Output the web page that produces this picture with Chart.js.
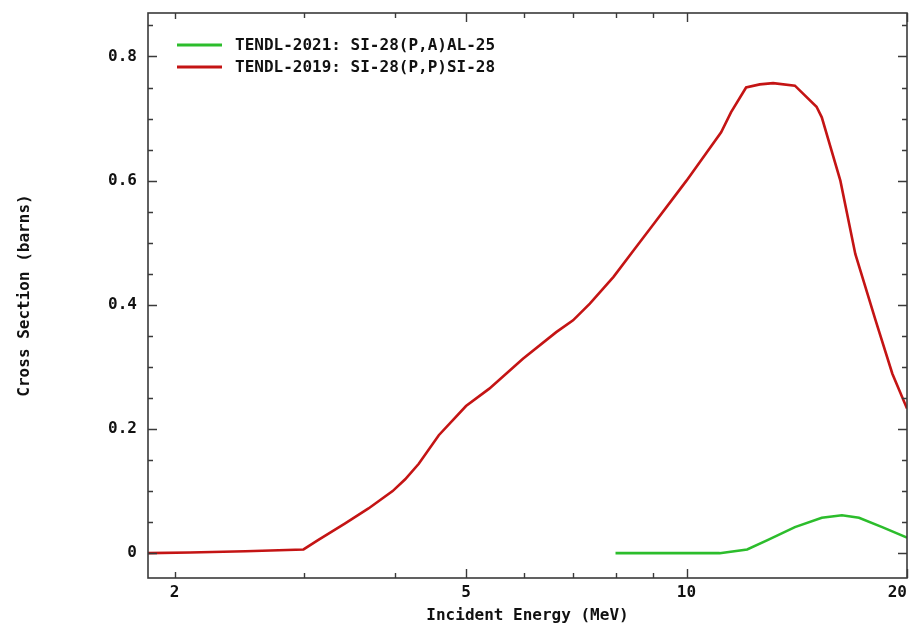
<!DOCTYPE html>
<html>
<head>
<meta charset="utf-8">
<script src="https://cdn.jsdelivr.net/npm/chart.js@4.4.1/dist/chart.umd.min.js"></script>
<style>
html,body{margin:0;padding:0;background:#fff;}
#wrap{width:914px;height:626px;position:relative;}
</style>
</head>
<body>
<div id="wrap"><canvas id="c" width="914" height="626"></canvas></div>
<script>
// ---- data ----
const seriesLabels = ["TENDL-2021: SI-28(P,A)AL-25", "TENDL-2019: SI-28(P,P)SI-28"];
const greenE  = [8.0, 11.1, 12.1, 12.9, 14.06, 15.3, 16.3, 17.2, 18.5, 20.0];
const greenXS = [0, 0, 0.006, 0.021, 0.042, 0.057, 0.061, 0.057, 0.042, 0.025];
const redE  = [1.84, 2.1, 2.5, 3.0, 3.14, 3.42, 3.68, 3.97, 4.13, 4.31, 4.59, 5.0, 5.38, 5.98, 6.64, 7.0, 7.38, 7.95, 8.47, 9.03, 9.61, 10.0, 11.15, 11.5, 12.06, 12.59, 13.13, 14.06, 15.05, 15.3, 16.22, 17.0, 18.12, 19.1, 20.0];
const redXS = [0, 0.001, 0.003, 0.006, 0.021, 0.048, 0.072, 0.100, 0.119, 0.144, 0.19, 0.237, 0.265, 0.313, 0.356, 0.375, 0.402, 0.445, 0.488, 0.531, 0.573, 0.600, 0.678, 0.710, 0.750, 0.755, 0.757, 0.753, 0.719, 0.702, 0.600, 0.482, 0.375, 0.289, 0.233];
const xMajorTicks = [2, 5, 10, 20];
const xMinorTicks = [3, 4, 6, 7, 8, 9];
const yMajorTicks = [0, 0.2, 0.4, 0.6, 0.8];
const yMinorTicks = [0.05, 0.1, 0.15, 0.25, 0.3, 0.35, 0.45, 0.5, 0.55, 0.65, 0.7, 0.75, 0.85];
const xRange = [1.84, 20];
const yRange = [-0.04, 0.87];

const FONT = "'DejaVu Sans Mono', 'Liberation Mono', monospace";
const RED = '#c41414';
const GREEN = '#2cbd2c';
const AXIS = '#3a3a3a';

function pts(xs, ys){ return xs.map((x,i)=>({x:x, y:ys[i]})); }

const framePlugin = {
  id: 'frame',
  afterDatasetsDraw(chart){
    const {ctx, chartArea:a, scales:{x, y}} = chart;
    ctx.save();
    ctx.strokeStyle = AXIS;
    ctx.lineWidth = 1.6;
    ctx.strokeRect(a.left, a.top, a.right - a.left, a.bottom - a.top);
    ctx.lineWidth = 1.4;
    ctx.beginPath();
    const xt = (v, len) => {
      const p = Math.round(x.getPixelForValue(v)) + 0.5;
      ctx.moveTo(p, a.bottom); ctx.lineTo(p, a.bottom - len);
      ctx.moveTo(p, a.top); ctx.lineTo(p, a.top + len);
    };
    const yt = (v, len) => {
      const p = Math.round(y.getPixelForValue(v)) + 0.5;
      ctx.moveTo(a.left, p); ctx.lineTo(a.left + len, p);
      ctx.moveTo(a.right, p); ctx.lineTo(a.right - len, p);
    };
    xMajorTicks.forEach(v => xt(v, v === 2 ? 6 : 9));
    xMinorTicks.forEach(v => xt(v, 5));
    yMajorTicks.forEach(v => yt(v, 9));
    yMinorTicks.forEach(v => yt(v, 5));
    ctx.stroke();

    // legend inside plot
    const ds = chart.data.datasets;
    ctx.font = "bold 16px " + FONT;
    ctx.textBaseline = 'middle';
    ctx.textAlign = 'left';
    ds.forEach((d, i) => {
      const yy = 45 + i * 22;
      ctx.strokeStyle = d.borderColor;
      ctx.lineWidth = 3;
      ctx.beginPath();
      ctx.moveTo(177, yy); ctx.lineTo(222, yy);
      ctx.stroke();
      ctx.fillStyle = '#111';
      ctx.fillText(d.label, 235, yy + 1);
    });
    ctx.restore();
  }
};

function zeroPad(s){ s.paddingTop = 0; s.paddingBottom = 0; s.paddingLeft = 0; s.paddingRight = 0; }

new Chart(document.getElementById('c'), {
  type: 'line',
  data: {
    datasets: [
      { label: seriesLabels[0], data: pts(greenE, greenXS), borderColor: GREEN, borderWidth: 2.6, pointRadius: 0, tension: 0, fill: false },
      { label: seriesLabels[1], data: pts(redE, redXS), borderColor: RED, borderWidth: 2.6, pointRadius: 0, tension: 0, fill: false }
    ]
  },
  options: {
    responsive: false,
    animation: false,
    devicePixelRatio: 1,
    layout: { padding: { left: 0, right: 7, top: 13, bottom: 0 } },
    plugins: { legend: { display: false }, tooltip: { enabled: false } },
    scales: {
      x: {
        type: 'logarithmic',
        min: xRange[0], max: xRange[1],
        // an unlabeled tick at the left edge so the last label ("20") can be inner-aligned
        afterBuildTicks: s => { s.ticks = [{ value: xRange[0] }].concat(xMajorTicks.map(v => ({ value: v }))); },
        afterFit: s => { s.height = 48; zeroPad(s); },
        grid: { display: false, drawTicks: false },
        border: { display: false },
        ticks: {
          autoSkip: false, maxRotation: 0, padding: 5, color: '#111', align: 'inner',
          font: { family: FONT, size: 16, weight: 'bold' },
          callback: v => xMajorTicks.includes(v) ? String(v) : ''
        },
        title: { display: true, text: 'Incident Energy (MeV)', color: '#111', padding: { top: 0, bottom: 1 },
                 font: { family: FONT, size: 16, weight: 'bold' } }
      },
      y: {
        type: 'linear',
        min: yRange[0], max: yRange[1],
        afterBuildTicks: s => { s.ticks = yMajorTicks.map(v => ({ value: v })); },
        afterFit: s => { s.width = 148; zeroPad(s); },
        grid: { display: false, drawTicks: false },
        border: { display: false },
        ticks: {
          autoSkip: false, padding: 11, color: '#111',
          font: { family: FONT, size: 16, weight: 'bold' },
          callback: v => v === 0 ? '0' : Number(v).toFixed(1)
        },
        title: { display: true, text: 'Cross Section (barns)', color: '#111', padding: { top: 15, bottom: 0 },
                 font: { family: FONT, size: 16, weight: 'bold' } }
      }
    }
  },
  plugins: [framePlugin]
});
</script>
</body>
</html>
